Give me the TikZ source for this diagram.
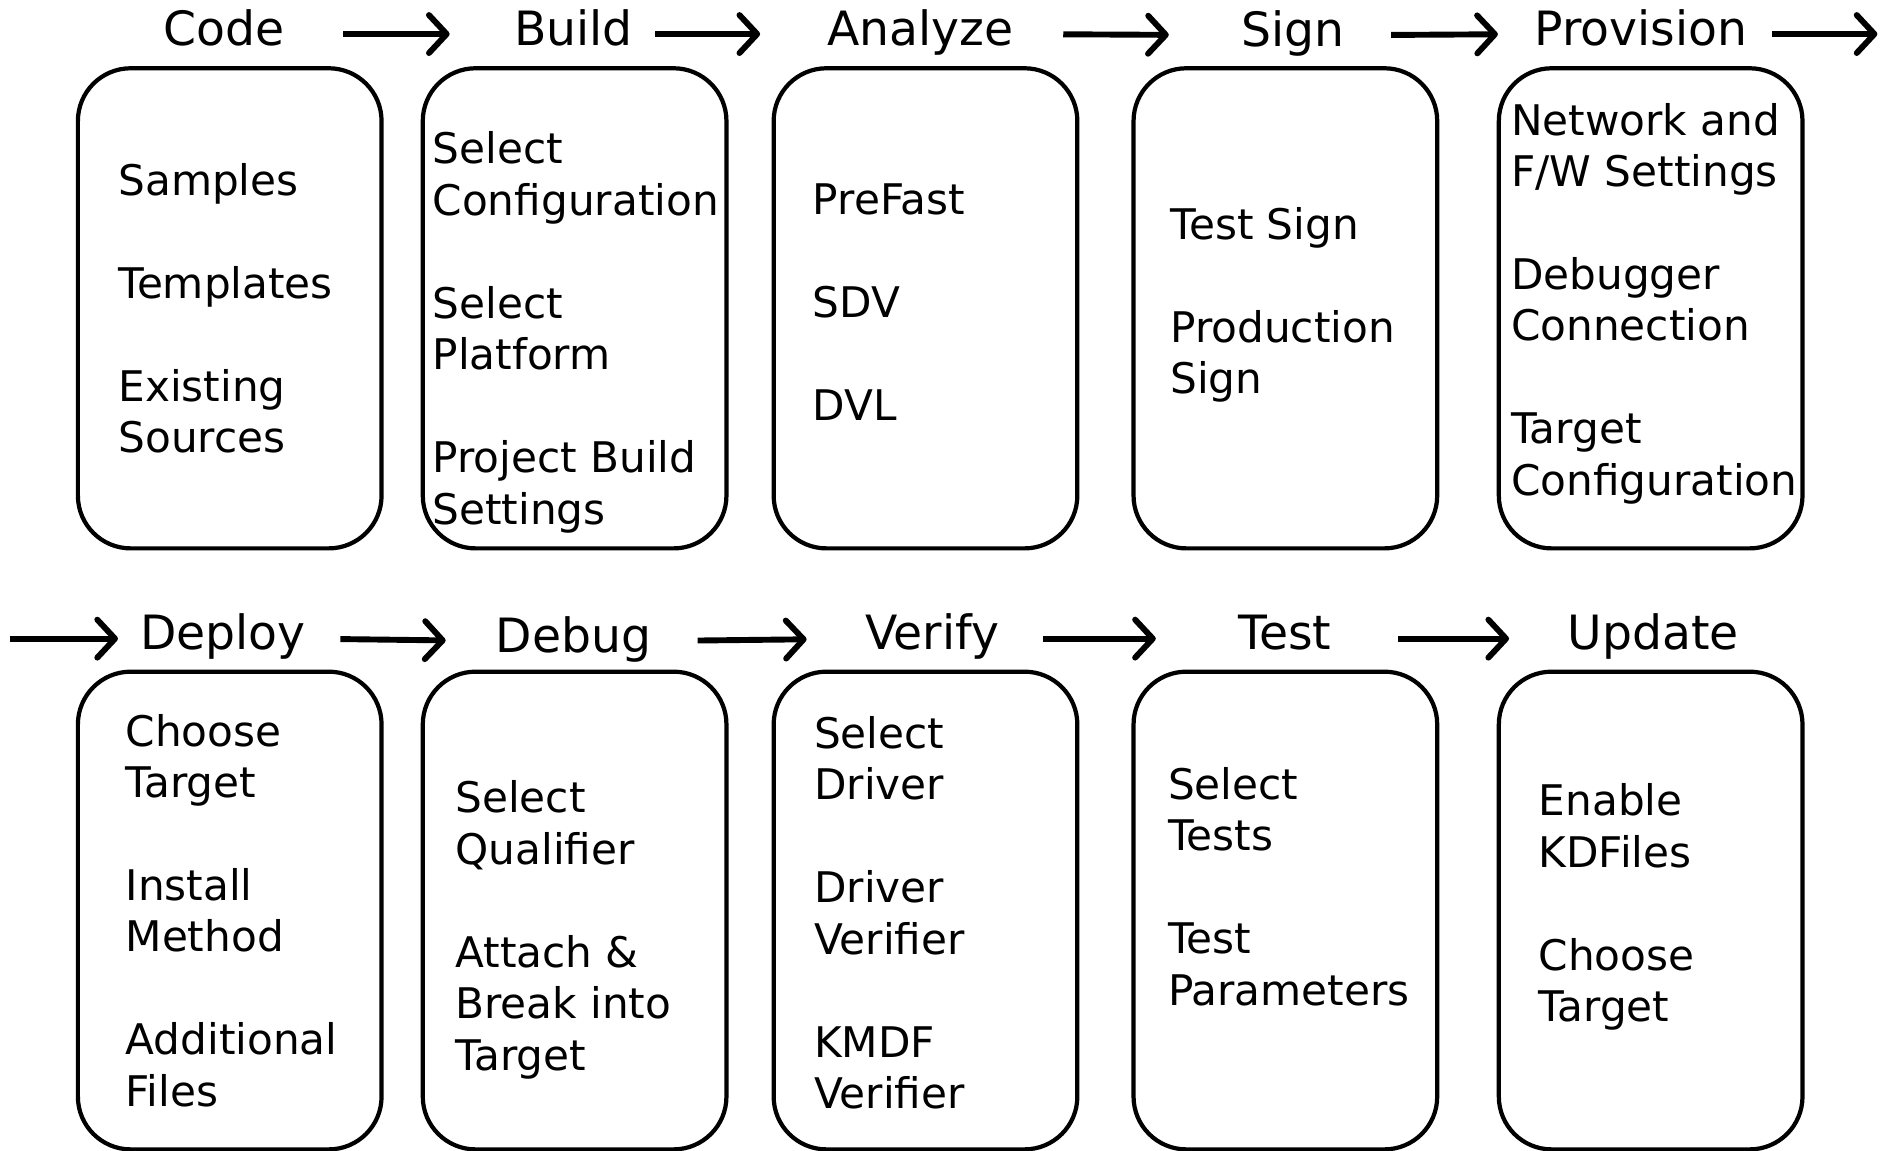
\documentclass[tikz,border=0pt]{standalone}
\usepackage{fontspec}
\setmainfont{DejaVu Sans}
\usetikzlibrary{arrows.meta}
\begin{document}
\begin{tikzpicture}[x=0.01cm,y=-0.01cm,
  stagebox/.style={draw, line width=1pt, rounded corners=0.44cm,
    minimum width=2.53cm, minimum height=4cm, inner sep=0},
  title/.style={font=\fontsize{11.2pt}{13pt}\selectfont, inner sep=0,
    text height=0.76em, text depth=0.24em, anchor=base},
  items/.style={font=\fontsize{10pt}{12.2pt}\selectfont, align=left,
    anchor=west, inner sep=0},
  flow/.style={line width=1.4pt,
    -{Straight Barb[length=4.2pt,width=9pt,line cap=round,line join=round]}}]
\useasboundingbox (0,0) rectangle (1568,959);

% ---- stage titles ----
\node[title] (code)  at (187,37.5)  {Code};
\node[title] (build) at (478,37.5)  {Build};
\node[title] (anlz)  at (767,37.5)  {Analyze};
\node[title] (sign)  at (1078,38.5) {Sign};
\node[title] (prov)  at (1368,37.5) {Provision};

\node[title] (depl)  at (186,541.5)  {Deploy};
\node[title] (dbg)   at (478,543.5)  {Debug};
\node[title] (vrfy)  at (777,541.5)  {Verify};
\node[title] (test)  at (1071,541.5) {Test};
\node[title] (upd)   at (1378,541.5) {Update};

% ---- stage boxes ----
\node[stagebox] (bcode)  at (191.5,257) {};
\node[stagebox] (bbuild) at (479,257)   {};
\node[stagebox] (banlz)  at (771.5,257) {};
\node[stagebox] (bsign)  at (1071.5,257) {};
\node[stagebox] (bprov)  at (1376,257)  {};

\node[stagebox, minimum height=3.98cm] (bdepl) at (191.5,759) {};
\node[stagebox, minimum height=3.98cm] (bdbg)  at (479,759)   {};
\node[stagebox, minimum height=3.98cm] (bvrfy) at (771.5,759) {};
\node[stagebox, minimum height=3.98cm] (btest) at (1071.5,759) {};
\node[stagebox, minimum height=3.98cm] (bupd)  at (1376,759)  {};

% ---- box contents ----
\node[items] (tcode)  at (98,257)  {Samples\\[12.2pt]Templates\\[12.2pt]Existing\\Sources};
\node[items] (tbuild) at (360,277) {Select\\Configuration\\[12.2pt]Select\\Platform\\[12.2pt]Project Build\\Settings};
\node[items] (tanlz)  at (677,252) {PreFast\\[12.2pt]SDV\\[12.2pt]DVL};
\node[items] (tsign)  at (975,254) {Test Sign\\[12.2pt]Production\\Sign};
\node[items] (tprov)  at (1259,253) {Network and\\F/W Settings\\[12.2pt]Debugger\\Connection\\[12.2pt]Target\\Configuration};

\node[items] (tdepl)  at (104,759)  {Choose\\Target\\[12.2pt]Install\\Method\\[12.2pt]Additional\\Files};
\node[items] (tdbg)   at (379,775)  {Select\\Qualifier\\[12.2pt]Attach \&\\Break into\\Target};
\node[items] (tvrfy)  at (678,761)  {Select\\Driver\\[12.2pt]Driver\\Verifier\\[12.2pt]KMDF\\Verifier};
\node[items] (ttest)  at (973,739)  {Select\\Tests\\[12.2pt]Test\\Parameters};
\node[items] (tupd)   at (1282,756) {Enable\\KDFiles\\[12.2pt]Choose\\Target};

% ---- flow arrows ----
\coordinate (wrapout) at (1565,28);
\coordinate (wrapin)  at (8,531);

\draw[flow, shorten <=0.48cm, shorten >=0.53cm] (code.east) -- (build.west);
\draw[flow, shorten <=0.18cm, shorten >=0.55cm] (build.east) -- (anlz.west);
\draw[flow, shorten <=0.41cm, shorten >=0.60cm] (anlz.east) -- (sign.west);
\draw[flow, shorten <=0.38cm, shorten >=0.30cm] (sign.east) -- (prov.west);
\draw[flow, shorten <=0.20cm] (prov.east) -- (prov.east -| wrapout);

\draw[flow, shorten >=0.18cm] (wrapin |- depl.west) -- (depl.west);
\draw[flow, shorten <=0.28cm, shorten >=0.41cm] (depl.east) -- (dbg.west);
\draw[flow, shorten <=0.38cm, shorten >=0.48cm] (dbg.east) -- (vrfy.west);
\draw[flow, shorten <=0.36cm, shorten >=0.68cm] (vrfy.east) -- (test.west);
\draw[flow, shorten <=0.55cm, shorten >=0.48cm] (test.east) -- (upd.west);
\end{tikzpicture}
\end{document}
